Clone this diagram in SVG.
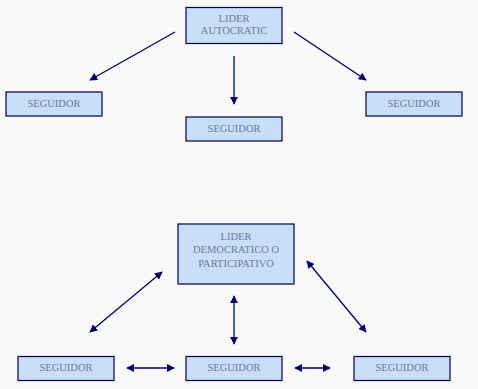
<svg xmlns="http://www.w3.org/2000/svg" width="478" height="389" viewBox="0 0 478 389">
<style>
.box{fill:#c8def8;stroke:#00004e;stroke-width:1.2}
.t{font-family:"Liberation Serif","Times New Roman",serif;font-size:10.5px;fill:#6d7b99;text-anchor:middle}
.c{stroke:#00006a;stroke-width:1.3;fill:none}
</style>
<defs>
<marker id="ah" viewBox="0 0 10 10" refX="9" refY="5" markerWidth="8" markerHeight="8" markerUnits="userSpaceOnUse" orient="auto-start-reverse">
<path d="M0,0 L10,5 L0,10 z" fill="#00006a"/>
</marker>
</defs>
<rect width="478" height="389" fill="#f8f8f8"/>
<g id="connectors">
<line class="c" x1="175" y1="32" x2="90" y2="80" marker-end="url(#ah)"/>
<line class="c" x1="234" y1="56" x2="234" y2="104" marker-end="url(#ah)"/>
<line class="c" x1="294" y1="32" x2="366" y2="80" marker-end="url(#ah)"/>
<line class="c" x1="162" y1="272" x2="90" y2="332" marker-start="url(#ah)" marker-end="url(#ah)"/>
<line class="c" x1="234" y1="296" x2="234" y2="344" marker-start="url(#ah)" marker-end="url(#ah)"/>
<line class="c" x1="307" y1="261" x2="366" y2="332" marker-start="url(#ah)" marker-end="url(#ah)"/>
<line class="c" x1="127" y1="368" x2="174" y2="368" marker-start="url(#ah)" marker-end="url(#ah)"/>
<line class="c" x1="295" y1="368" x2="330" y2="368" marker-start="url(#ah)" marker-end="url(#ah)"/>
</g>
<g id="lider-autocratic">
<rect class="box" x="186" y="7.5" width="96" height="36"/>
<text class="t" x="234" y="22">LIDER</text>
<text class="t" x="234" y="34">AUTOCRATIC</text>
</g>
<g id="seguidor-left">
<rect class="box" x="6" y="92" width="96" height="24"/>
<text class="t" x="54" y="107">SEGUIDOR</text>
</g>
<g id="seguidor-right">
<rect class="box" x="366" y="92" width="96" height="24"/>
<text class="t" x="414" y="107">SEGUIDOR</text>
</g>
<g id="seguidor-mid">
<rect class="box" x="186" y="117" width="96" height="24"/>
<text class="t" x="234" y="132">SEGUIDOR</text>
</g>
<g id="lider-democratico">
<rect class="box" x="178" y="224" width="116" height="60"/>
<text class="t" x="236" y="240">LIDER</text>
<text class="t" x="236" y="253">DEMOCRATICO O</text>
<text class="t" x="236" y="267">PARTICIPATIVO</text>
</g>
<g id="seguidor-b1">
<rect class="box" x="18" y="356.5" width="96" height="24"/>
<text class="t" x="66" y="371">SEGUIDOR</text>
</g>
<g id="seguidor-b2">
<rect class="box" x="186" y="356.5" width="96" height="24"/>
<text class="t" x="234" y="371">SEGUIDOR</text>
</g>
<g id="seguidor-b3">
<rect class="box" x="354" y="356.5" width="96" height="24"/>
<text class="t" x="402" y="371">SEGUIDOR</text>
</g>
</svg>
